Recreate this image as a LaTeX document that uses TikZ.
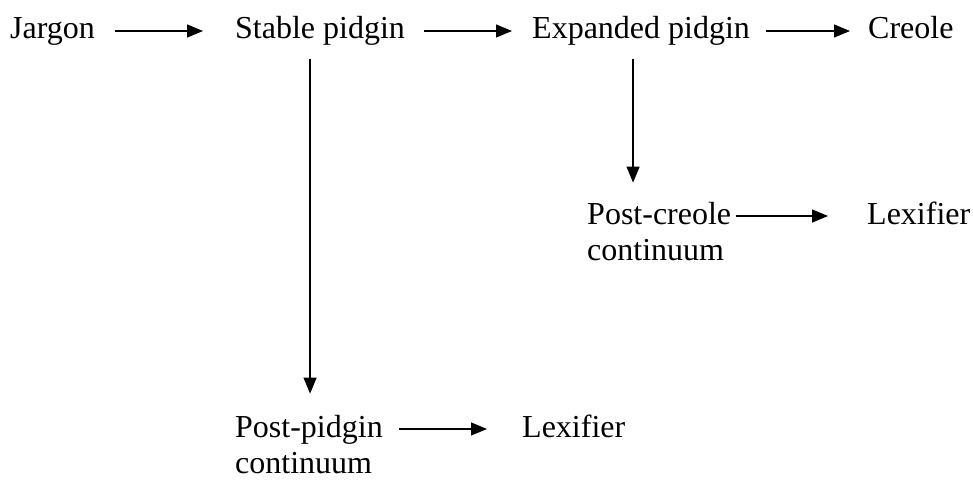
\documentclass[tikz,border=0pt]{standalone}
\usepackage{fontspec}
\setmainfont{Liberation Serif}
\usetikzlibrary{arrows.meta}

\begin{document}
\begin{tikzpicture}[x=1pt,y=-1pt,
  every node/.style={inner sep=0pt, anchor=base west, align=left,
    font=\fontsize{32}{36}\selectfont},
  link/.style={-{Triangle[length=16pt,width=13pt]}, line width=1.2pt}]
  \useasboundingbox (0,0) rectangle (973,481);

  % top row
  \node (jargon)   at (10,39)  {Jargon};
  \node (stable)   at (235,39) {Stable pidgin};
  \node (expanded) at (532,39) {Expanded pidgin};
  \node (creole)   at (868,39) {Creole};

  % continua (base = last line)
  \node (postcreole) at (587,260) {Post-creole\\continuum};
  \node (lexcreole)  at (867,224) {Lexifier};
  \node (postpidgin) at (235,473) {Post-pidgin\\continuum};
  \node (lexpidgin)  at (522,437) {Lexifier};

  \draw[link, shorten <=20pt, shorten >=32pt] ([yshift=8pt]jargon.base east) -- ([yshift=8pt]stable.base west);
  \draw[link, shorten <=19pt, shorten >=20pt] ([yshift=8pt]stable.base east) -- ([yshift=8pt]expanded.base west);
  \draw[link, shorten <=16pt, shorten >=18pt] ([yshift=8pt]expanded.base east) -- ([yshift=8pt]creole.base west);
  \draw[link, shorten <=5pt, shorten >=39pt] ([yshift=44pt]postcreole.base east) -- ([yshift=8pt]lexcreole.base west);
  \draw[link, shorten <=16pt, shorten >=35pt] ([yshift=44pt]postpidgin.base east) -- ([yshift=8pt]lexpidgin.base west);

  \draw[link, shorten <=13pt, shorten >=21pt] ([xshift=-10pt]stable.south) -- ([xshift=-10pt]stable.south |- postpidgin.north);
  \draw[link, shorten <=13pt, shorten >=19pt] ([xshift=-8pt]expanded.south) -- ([xshift=-8pt]expanded.south |- postcreole.north);
\end{tikzpicture}
\end{document}
